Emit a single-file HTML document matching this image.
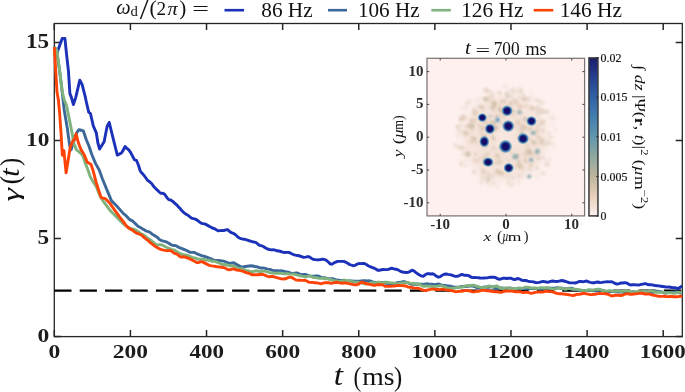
<!DOCTYPE html>
<html><head><meta charset="utf-8"><style>html,body{margin:0;padding:0;background:#fff;overflow:hidden}svg{display:block;will-change:transform}</style></head>
<body><svg width="685" height="392" viewBox="0 0 685 392">
<defs>
<clipPath id="pc"><rect x="40" y="23.5" width="642.6" height="313.1"/></clipPath>
<clipPath id="ic"><rect x="427" y="58.3" width="157.6" height="157.6"/></clipPath>
<linearGradient id="cb" x1="0" y1="1" x2="0" y2="0">
<stop offset="0" stop-color="#fcf1ee"/>
<stop offset="0.125" stop-color="#e8cfbb"/>
<stop offset="0.25" stop-color="#bdb59c"/>
<stop offset="0.375" stop-color="#8fa9a0"/>
<stop offset="0.5" stop-color="#6297ae"/>
<stop offset="0.625" stop-color="#437ead"/>
<stop offset="0.75" stop-color="#3162a5"/>
<stop offset="0.875" stop-color="#26408f"/>
<stop offset="1" stop-color="#1b1c6b"/>
</linearGradient>
<filter id="bl1" x="-50%" y="-50%" width="200%" height="200%"><feGaussianBlur stdDeviation="1.6"/></filter>
<filter id="bl2" x="-50%" y="-50%" width="200%" height="200%"><feGaussianBlur stdDeviation="0.9"/></filter>
<filter id="bl3" x="-50%" y="-50%" width="200%" height="200%"><feGaussianBlur stdDeviation="0.5"/></filter>
<radialGradient id="dotg" cx="0.5" cy="0.5" r="0.5">
<stop offset="0" stop-color="#140f68"/>
<stop offset="0.5" stop-color="#15126a"/>
<stop offset="0.6" stop-color="#2c4c9f"/>
<stop offset="0.74" stop-color="#4a88b6"/>
<stop offset="0.88" stop-color="#7eaab8" stop-opacity="0.7"/>
<stop offset="1" stop-color="#a0b8b0" stop-opacity="0"/>
</radialGradient>
<radialGradient id="cloud" cx="0.5" cy="0.5" r="0.5">
<stop offset="0" stop-color="#ead3c0" stop-opacity="0.3"/>
<stop offset="0.45" stop-color="#e6cdb8" stop-opacity="0.45"/>
<stop offset="0.8" stop-color="#ecd6c6" stop-opacity="0.35"/>
<stop offset="1" stop-color="#fbefea" stop-opacity="0"/>
</radialGradient>
</defs>
<rect width="685" height="392" fill="#fff"/>
<rect x="54.3" y="23.5" width="628.0" height="313.1" fill="none" stroke="#262626" stroke-width="1.3"/>
<path d="M54.30 336.6v-6.6M54.30 23.5v6.6M130.41 336.6v-6.6M130.41 23.5v6.6M206.53 336.6v-6.6M206.53 23.5v6.6M282.64 336.6v-6.6M282.64 23.5v6.6M358.75 336.6v-6.6M358.75 23.5v6.6M434.86 336.6v-6.6M434.86 23.5v6.6M510.98 336.6v-6.6M510.98 23.5v6.6M587.09 336.6v-6.6M587.09 23.5v6.6M663.20 336.6v-6.6M663.20 23.5v6.6M54.3 336.60h6.6M682.3 336.60h-6.6M54.3 238.60h6.6M682.3 238.60h-6.6M54.3 140.60h6.6M682.3 140.60h-6.6M54.3 42.60h6.6M682.3 42.60h-6.6" stroke="#262626" stroke-width="1.5" fill="none"/>
<line x1="54.3" y1="290.6" x2="682.3" y2="290.6" stroke="#000" stroke-width="2.4" stroke-dasharray="17.2 8.2"/>
<g clip-path="url(#pc)" fill="none" stroke-width="2.9" stroke-linejoin="round" stroke-linecap="butt">
<polyline stroke="#1b31b9" points="56.0,55.5 62.2,38.4 64.9,38.4 66.4,53.0 68.4,70.6 69.9,93.6 71.4,97.4 73.4,104.5 75.7,97.6 79.8,80.1 82.1,84.4 85.2,96.6 86.4,102.2 88.7,112.2 90.5,113.7 93.3,125.9 96.3,132.8 97.9,143.0 99.6,149.0 104.1,141.8 107.1,126.5 109.2,122.4 111.2,130.6 117.3,155.1 121.4,153.0 123.1,150.4 125.0,146.6 126.9,148.3 128.8,149.9 130.7,152.6 132.6,156.2 134.5,159.9 136.4,160.3 138.3,164.8 140.2,170.8 142.1,173.3 144.0,175.4 145.9,178.0 147.8,180.6 149.7,181.8 151.6,183.5 153.5,186.2 155.4,188.3 157.3,190.1 159.2,192.1 161.1,193.4 163.0,193.2 164.9,194.4 166.8,197.5 168.7,199.6 170.6,200.0 172.5,201.2 174.4,202.9 176.3,204.6 178.2,206.6 180.1,208.5 182.0,210.8 183.9,212.7 185.8,214.2 187.7,215.0 189.6,216.6 191.5,218.1 193.4,218.7 195.3,219.1 197.2,220.1 199.1,221.7 201.0,223.1 202.9,223.6 204.8,223.9 206.7,224.9 208.6,225.9 210.5,227.0 212.4,228.0 214.3,228.6 216.2,229.7 218.1,230.8 220.0,230.6 221.9,230.5 223.8,230.6 225.7,229.9 227.6,229.6 229.5,231.4 231.4,232.7 233.3,233.3 235.2,234.5 237.1,236.3 239.0,237.8 240.9,238.7 242.8,239.1 244.7,239.3 246.6,239.8 248.5,240.5 250.4,241.1 252.3,241.7 254.2,242.0 256.1,242.7 258.0,244.2 259.9,245.4 261.8,245.8 263.7,246.7 265.6,248.0 267.5,249.0 269.4,249.5 271.3,249.9 273.2,249.8 275.1,250.1 277.0,250.8 278.9,251.0 280.8,251.5 282.7,252.1 284.6,252.5 286.5,252.4 288.4,252.4 290.3,253.0 292.2,254.0 294.1,254.8 296.0,255.2 297.9,255.5 299.8,256.0 301.7,256.6 303.6,257.4 305.5,257.1 307.4,256.7 309.3,256.8 311.2,258.2 313.1,259.3 315.0,259.6 316.9,259.9 318.8,259.7 320.7,259.5 322.6,259.1 324.5,259.5 326.4,260.4 328.3,262.0 330.2,263.9 332.1,264.2 334.0,262.8 335.9,262.0 337.8,261.4 339.7,261.4 341.6,261.4 343.5,261.4 345.4,262.0 347.3,263.0 349.2,264.3 351.1,265.0 353.0,265.7 354.9,265.4 356.8,264.3 358.7,263.5 360.6,263.6 362.5,263.5 364.4,263.5 366.3,264.5 368.2,265.8 370.1,266.7 372.0,267.4 373.9,268.1 375.8,269.0 377.7,270.3 379.6,270.3 381.5,269.7 383.4,269.5 385.3,269.6 387.2,269.6 389.1,269.1 391.0,268.3 392.9,268.5 394.8,269.2 396.7,269.3 398.6,270.1 400.5,271.4 402.4,272.0 404.3,272.2 406.2,272.5 408.1,272.4 410.0,271.5 411.9,270.2 413.8,270.8 415.7,272.4 417.6,273.8 419.5,275.0 421.4,275.8 423.3,276.3 425.2,274.8 427.1,273.7 429.0,273.8 430.9,274.0 432.8,273.8 434.7,274.8 436.6,276.3 438.5,277.2 440.4,276.6 442.3,275.2 444.2,274.2 446.1,274.0 448.0,274.4 449.9,274.6 451.8,275.2 453.7,275.9 455.6,276.4 457.5,276.3 459.4,275.5 461.3,274.5 463.2,274.8 465.1,275.4 467.0,275.3 468.9,275.7 470.8,277.0 472.7,277.6 474.6,277.5 476.5,277.6 478.4,277.8 480.3,278.0 482.2,278.1 484.1,278.0 486.0,277.9 487.9,277.7 489.8,277.3 491.7,277.3 493.6,277.3 495.5,277.5 497.4,278.7 499.3,279.4 501.2,278.8 503.1,278.2 505.0,278.3 506.9,278.5 508.8,278.3 510.7,278.1 512.6,279.0 514.5,279.6 516.4,279.0 518.3,278.5 520.2,279.3 522.1,280.4 524.0,280.5 525.9,280.5 527.8,281.1 529.7,281.5 531.6,281.6 533.5,281.9 535.4,282.5 537.3,282.6 539.2,282.4 541.1,281.9 543.0,281.4 544.9,281.7 546.8,282.2 548.7,282.0 550.6,281.4 552.5,281.0 554.4,281.3 556.3,281.5 558.2,281.4 560.1,280.9 562.0,280.5 563.9,281.0 565.8,281.5 567.7,282.2 569.6,282.9 571.5,282.9 573.4,282.9 575.3,283.0 577.2,282.4 579.1,281.5 581.0,281.4 582.9,281.9 584.8,281.4 586.7,281.0 588.6,281.9 590.5,282.4 592.4,282.7 594.3,282.8 596.2,282.2 598.1,282.0 600.0,282.6 601.9,282.4 603.8,282.1 605.7,281.9 607.6,281.7 609.5,281.9 611.4,281.7 613.3,282.5 615.2,283.5 617.1,284.1 619.0,283.6 620.9,283.0 622.8,283.0 624.7,282.8 626.6,282.9 628.5,284.1 630.4,285.0 632.3,284.8 634.2,284.6 636.1,284.9 638.0,285.0 639.9,284.7 641.8,284.3 643.7,283.9 645.6,283.7 647.5,284.5 649.4,284.7 651.3,284.7 653.2,285.1 655.1,285.5 657.0,285.7 658.9,285.9 660.8,286.2 662.7,286.5 664.6,286.8 666.5,287.1 668.4,287.0 670.3,287.2 672.2,287.5 674.1,287.6 676.0,288.0 677.9,288.6 679.8,287.6 681.7,286.1 681.9,286.1"/>
<polyline stroke="#3b6898" points="54.4,47.4 56.6,50.5 59.7,71.5 62.0,90.5 64.2,109.9 67.3,128.2 69.6,145.0 71.1,149.9 73.4,142.2 76.5,133.1 78.8,129.8 80.3,130.0 83.3,130.8 86.4,140.0 88.7,145.3 91.8,154.5 95.6,163.6 99.2,170.0 102.2,178.2 106.3,188.4 111.4,200.6 116.5,205.7 123.7,213.9 125.6,215.2 127.5,217.3 129.4,219.4 131.3,220.4 133.2,221.4 135.1,223.4 137.0,225.3 138.9,226.8 140.8,227.8 142.7,228.9 144.6,230.1 146.5,231.2 148.4,231.6 150.3,232.5 152.2,234.2 154.1,235.3 156.0,236.4 157.9,237.9 159.8,239.7 161.7,240.6 163.6,241.2 165.5,241.7 167.4,242.4 169.3,243.5 171.2,244.8 173.1,245.5 175.0,245.5 176.9,246.2 178.8,247.4 180.7,248.1 182.6,248.8 184.5,249.6 186.4,250.3 188.3,251.4 190.2,252.4 192.1,252.4 194.0,252.4 195.9,253.3 197.8,254.2 199.7,254.9 201.6,255.6 203.5,256.1 205.4,256.7 207.3,257.4 209.2,258.1 211.1,258.8 213.0,259.8 214.9,260.4 216.8,260.4 218.7,260.4 220.6,260.7 222.5,260.9 224.4,261.3 226.3,262.2 228.2,262.9 230.1,263.4 232.0,263.0 233.9,262.7 235.8,263.9 237.7,265.1 239.6,266.0 241.5,267.0 243.4,267.0 245.3,266.5 247.2,266.2 249.1,266.0 251.0,265.8 252.9,266.0 254.8,266.5 256.7,266.7 258.6,267.3 260.5,268.0 262.4,268.0 264.3,268.1 266.2,268.7 268.1,269.1 270.0,269.4 271.9,270.1 273.8,270.7 275.7,270.6 277.6,270.7 279.5,270.9 281.4,270.8 283.3,271.1 285.2,271.7 287.1,272.0 289.0,272.4 290.9,273.1 292.8,273.5 294.7,273.2 296.6,272.9 298.5,273.5 300.4,274.5 302.3,274.8 304.2,274.5 306.1,274.6 308.0,275.4 309.9,275.9 311.8,276.1 313.7,276.1 315.6,275.9 317.5,275.9 319.4,276.5 321.3,277.4 323.2,277.7 325.1,277.8 327.0,278.4 328.9,278.9 330.8,278.8 332.7,278.7 334.6,279.3 336.5,280.0 338.4,280.2 340.3,280.5 342.2,280.5 344.1,280.2 346.0,280.5 347.9,280.8 349.8,280.9 351.7,281.0 353.6,281.3 355.5,281.2 357.4,281.1 359.3,281.3 361.2,280.9 363.1,280.7 365.0,280.8 366.9,280.9 368.8,280.8 370.7,281.1 372.6,281.9 374.5,282.3 376.4,282.4 378.3,282.8 380.2,282.8 382.1,282.5 384.0,282.7 385.9,283.2 387.8,283.5 389.7,284.2 391.6,285.1 393.5,284.5 395.4,283.4 397.3,282.7 399.2,282.5 401.1,282.3 403.0,281.7 404.9,281.8 406.8,282.4 408.7,283.2 410.6,284.0 412.5,284.2 414.4,284.2 416.3,284.2 418.2,284.0 420.1,284.2 422.0,284.3 423.9,284.4 425.8,284.0 427.7,283.8 429.6,284.3 431.5,284.3 433.4,284.4 435.3,284.7 437.2,284.2 439.1,284.0 441.0,284.8 442.9,285.3 444.8,285.5 446.7,285.8 448.6,285.9 450.5,286.1 452.4,286.7 454.3,287.0 456.2,287.2 458.1,287.3 460.0,286.9 461.9,286.5 463.8,286.4 465.7,286.5 467.6,286.3 469.5,286.0 471.4,285.9 473.3,286.2 475.2,286.9 477.1,287.6 479.0,288.2 480.9,288.3 482.8,287.5 484.7,286.9 486.6,287.2 488.5,287.3 490.4,286.9 492.3,286.8 494.2,287.7 496.1,288.7 498.0,288.7 499.9,288.0 501.8,287.9 503.7,288.2 505.6,288.5 507.5,288.3 509.4,287.9 511.3,288.1 513.2,288.8 515.1,288.9 517.0,288.8 518.9,288.6 520.8,288.5 522.7,288.5 524.6,288.5 526.5,288.9 528.4,288.8 530.3,288.4 532.2,288.6 534.1,288.7 536.0,288.3 537.9,288.5 539.8,289.0 541.7,289.2 543.6,288.8 545.5,288.2 547.4,288.1 549.3,288.2 551.2,288.2 553.1,288.3 555.0,288.1 556.9,287.8 558.8,287.9 560.7,288.1 562.6,288.3 564.5,288.8 566.4,288.9 568.3,288.5 570.2,288.2 572.1,288.3 574.0,289.2 575.9,289.9 577.8,290.0 579.7,290.4 581.6,290.8 583.5,290.7 585.4,290.8 587.3,290.7 589.2,290.2 591.1,290.1 593.0,290.4 594.9,290.8 596.8,290.8 598.7,290.2 600.6,289.9 602.5,290.5 604.4,291.3 606.3,291.6 608.2,291.6 610.1,291.6 612.0,291.5 613.9,291.6 615.8,291.8 617.7,291.9 619.6,292.0 621.5,292.0 623.4,292.0 625.3,292.3 627.2,293.1 629.1,293.3 631.0,292.4 632.9,291.6 634.8,292.1 636.7,292.7 638.6,292.1 640.5,291.5 642.4,292.1 644.3,292.9 646.2,292.2 648.1,291.5 650.0,291.9 651.9,292.5 653.8,292.1 655.7,291.4 657.6,291.2 659.5,291.6 661.4,291.8 663.3,292.5 665.2,293.0 667.1,292.7 669.0,292.4 670.9,292.3 672.8,292.1 674.7,291.9 676.6,291.8 678.5,292.2 680.4,293.2 682.0,292.5"/>
<polyline stroke="#7fb27c" points="54.5,47.3 56.8,50.0 59.6,70.5 62.3,92.0 64.3,100.0 66.5,105.3 69.6,120.6 72.6,135.9 73.4,142.2 76.5,149.9 80.3,152.9 82.6,155.2 84.9,162.1 87.9,169.8 90.2,176.6 93.3,182.0 96.3,186.6 100.2,196.5 104.3,202.7 110.4,210.8 116.5,216.9 122.7,223.1 124.6,224.9 126.5,226.2 128.4,227.4 130.3,228.4 132.2,228.8 134.1,229.3 136.0,230.2 137.9,231.5 139.8,233.0 141.7,234.0 143.6,234.8 145.5,236.4 147.4,238.1 149.3,239.2 151.2,240.4 153.1,242.2 155.0,243.8 156.9,244.9 158.8,244.7 160.7,244.6 162.6,245.2 164.5,246.2 166.4,247.2 168.3,248.1 170.2,248.9 172.1,249.6 174.0,249.9 175.9,250.8 177.8,252.3 179.7,253.4 181.6,254.2 183.5,254.8 185.4,254.9 187.3,255.3 189.2,256.1 191.1,257.0 193.0,257.6 194.9,257.9 196.8,258.7 198.7,259.3 200.6,259.2 202.5,259.1 204.4,259.5 206.3,260.0 208.2,260.1 210.1,260.5 212.0,261.3 213.9,261.3 215.8,261.6 217.7,262.5 219.6,263.2 221.5,264.1 223.4,264.7 225.3,264.5 227.2,265.0 229.1,265.7 231.0,265.7 232.9,265.9 234.8,266.7 236.7,267.6 238.6,268.6 240.5,268.6 242.4,268.8 244.3,269.9 246.2,270.4 248.1,270.7 250.0,271.5 251.9,271.9 253.8,271.3 255.7,270.8 257.6,271.0 259.5,271.5 261.4,271.5 263.3,271.1 265.2,271.1 267.1,271.8 269.0,272.4 270.9,272.8 272.8,273.1 274.7,273.2 276.6,273.2 278.5,273.3 280.4,273.3 282.3,273.6 284.2,273.9 286.1,273.8 288.0,273.8 289.9,274.1 291.8,274.1 293.7,274.1 295.6,274.6 297.5,275.1 299.4,275.5 301.3,276.1 303.2,276.4 305.1,276.7 307.0,276.5 308.9,275.9 310.8,276.2 312.7,277.2 314.6,277.5 316.5,277.7 318.4,278.2 320.3,278.4 322.2,278.3 324.1,278.5 326.0,278.8 327.9,278.8 329.8,279.4 331.7,280.0 333.6,280.4 335.5,280.7 337.4,281.2 339.3,281.6 341.2,281.1 343.1,280.6 345.0,280.5 346.9,280.5 348.8,280.7 350.7,281.2 352.6,281.7 354.5,282.0 356.4,282.1 358.3,282.2 360.2,282.8 362.1,283.1 364.0,283.7 365.9,284.1 367.8,283.7 369.7,283.2 371.6,282.6 373.5,282.7 375.4,282.9 377.3,282.3 379.2,282.2 381.1,282.8 383.0,282.7 384.9,282.2 386.8,282.1 388.7,282.5 390.6,282.9 392.5,282.9 394.4,283.1 396.3,283.8 398.2,283.6 400.1,283.1 402.0,283.0 403.9,283.0 405.8,282.6 407.7,282.5 409.6,283.1 411.5,283.4 413.4,283.3 415.3,283.7 417.2,283.9 419.1,284.2 421.0,285.1 422.9,286.2 424.8,286.2 426.7,285.9 428.6,286.3 430.5,286.3 432.4,286.4 434.3,286.5 436.2,286.4 438.1,286.1 440.0,285.7 441.9,285.8 443.8,286.4 445.7,287.1 447.6,288.0 449.5,288.5 451.4,288.2 453.3,288.2 455.2,288.0 457.1,287.5 459.0,287.1 460.9,287.1 462.8,287.0 464.7,286.2 466.6,285.6 468.5,285.6 470.4,285.7 472.3,285.1 474.2,285.3 476.1,286.0 478.0,286.5 479.9,287.2 481.8,287.7 483.7,287.5 485.6,287.1 487.5,286.4 489.4,285.9 491.3,286.9 493.2,287.3 495.1,286.1 497.0,285.9 498.9,287.2 500.8,288.2 502.7,288.4 504.6,288.3 506.5,288.0 508.4,288.1 510.3,288.5 512.2,288.5 514.1,288.8 516.0,288.8 517.9,288.1 519.8,287.9 521.7,288.3 523.6,287.9 525.5,287.2 527.4,287.1 529.3,287.5 531.2,288.1 533.1,288.0 535.0,288.0 536.9,288.4 538.8,288.2 540.7,287.6 542.6,287.8 544.5,288.0 546.4,287.7 548.3,287.6 550.2,288.3 552.1,288.9 554.0,289.0 555.9,288.8 557.8,288.1 559.7,287.9 561.6,288.1 563.5,288.6 565.4,289.3 567.3,288.8 569.2,288.3 571.1,289.0 573.0,289.3 574.9,289.2 576.8,289.4 578.7,289.6 580.6,289.9 582.5,290.8 584.4,291.0 586.3,290.3 588.2,289.8 590.1,290.0 592.0,290.2 593.9,289.8 595.8,289.4 597.7,289.2 599.6,289.3 601.5,290.2 603.4,290.9 605.3,291.0 607.2,291.1 609.1,290.7 611.0,290.6 612.9,291.3 614.8,291.4 616.7,290.8 618.6,291.0 620.5,291.5 622.4,291.4 624.3,290.9 626.2,290.7 628.1,291.0 630.0,291.7 631.9,292.2 633.8,292.0 635.7,291.7 637.6,291.5 639.5,291.5 641.4,291.7 643.3,291.5 645.2,291.4 647.1,291.6 649.0,291.3 650.9,291.0 652.8,291.1 654.7,291.8 656.6,292.3 658.5,292.3 660.4,292.4 662.3,292.2 664.2,292.3 666.1,292.9 668.0,292.7 669.9,292.7 671.8,292.9 673.7,293.3 675.6,293.0 677.5,292.4 679.4,292.3 681.3,292.5 681.9,292.3"/>
<polyline stroke="#ff4306" points="54.3,47.2 55.7,70.5 57.0,92.0 58.4,100.0 59.6,112.9 61.2,135.9 61.9,148.3 62.4,155.2 63.9,150.6 66.1,172.8 68.1,160.6 70.3,146.8 72.6,141.5 74.6,139.2 76.2,133.8 78.0,141.5 81.1,149.9 84.1,154.5 87.2,162.1 91.0,164.4 93.3,171.3 96.1,182.2 98.6,190.0 101.2,197.6 105.3,198.6 109.4,202.7 114.5,209.8 119.6,216.9 124.7,223.5 126.6,226.2 128.5,227.8 130.4,229.1 132.3,230.0 134.2,231.6 136.1,232.9 138.0,233.7 139.9,234.3 141.8,235.3 143.7,237.1 145.6,238.7 147.5,240.0 149.4,241.8 151.3,243.4 153.2,244.8 155.1,246.3 157.0,247.4 158.9,248.5 160.8,249.4 162.7,249.9 164.6,250.3 166.5,250.7 168.4,250.6 170.3,250.4 172.2,251.6 174.1,253.1 176.0,253.8 177.9,254.8 179.8,256.5 181.7,257.1 183.6,256.8 185.5,257.1 187.4,257.9 189.3,258.6 191.2,259.6 193.1,260.5 195.0,261.5 196.9,262.6 198.8,262.5 200.7,261.7 202.6,261.9 204.5,262.9 206.4,263.9 208.3,264.9 210.2,265.6 212.1,265.9 214.0,266.1 215.9,266.5 217.8,266.8 219.7,267.1 221.6,267.3 223.5,267.5 225.4,268.2 227.3,269.3 229.2,269.9 231.1,269.3 233.0,268.8 234.9,269.4 236.8,270.1 238.7,270.3 240.6,270.7 242.5,271.2 244.4,271.9 246.3,272.7 248.2,273.0 250.1,273.9 252.0,274.7 253.9,274.8 255.8,274.8 257.7,274.7 259.6,274.5 261.5,274.4 263.4,274.5 265.3,275.3 267.2,276.3 269.1,276.7 271.0,276.4 272.9,276.5 274.8,277.1 276.7,277.6 278.6,278.1 280.5,278.7 282.4,278.9 284.3,279.0 286.2,278.5 288.1,277.6 290.0,277.2 291.9,277.6 293.8,278.8 295.7,279.8 297.6,280.2 299.5,280.2 301.4,280.4 303.3,280.4 305.2,280.3 307.1,281.2 309.0,282.3 310.9,282.4 312.8,282.4 314.7,282.8 316.6,282.8 318.5,283.2 320.4,283.7 322.3,283.4 324.2,282.8 326.1,282.6 328.0,282.7 329.9,283.1 331.8,283.2 333.7,282.8 335.6,282.5 337.5,282.3 339.4,282.8 341.3,283.2 343.2,283.0 345.1,283.0 347.0,283.1 348.9,283.6 350.8,284.0 352.7,284.4 354.6,284.8 356.5,284.9 358.4,284.2 360.3,282.9 362.2,282.1 364.1,282.8 366.0,283.5 367.9,284.0 369.8,284.4 371.7,284.8 373.6,285.3 375.5,285.2 377.4,284.7 379.3,284.8 381.2,284.7 383.1,284.9 385.0,286.2 386.9,286.4 388.8,286.2 390.7,286.4 392.6,286.1 394.5,286.1 396.4,285.6 398.3,285.4 400.2,285.6 402.1,285.6 404.0,285.8 405.9,286.0 407.8,286.8 409.7,287.3 411.6,287.3 413.5,287.9 415.4,288.3 417.3,288.1 419.2,288.5 421.1,289.4 423.0,290.2 424.9,290.5 426.8,290.1 428.7,289.8 430.6,289.3 432.5,288.9 434.4,289.3 436.3,289.5 438.2,289.5 440.1,289.6 442.0,289.1 443.9,289.3 445.8,289.9 447.7,290.1 449.6,290.3 451.5,290.7 453.4,291.2 455.3,291.7 457.2,291.6 459.1,291.3 461.0,291.4 462.9,291.0 464.8,290.6 466.7,290.6 468.6,290.7 470.5,291.2 472.4,291.8 474.3,291.9 476.2,291.4 478.1,291.3 480.0,290.9 481.9,290.4 483.8,290.4 485.7,290.5 487.6,290.7 489.5,291.0 491.4,291.3 493.3,291.5 495.2,291.8 497.1,291.8 499.0,292.0 500.9,292.4 502.8,291.8 504.7,291.2 506.6,291.0 508.5,291.1 510.4,291.1 512.3,291.1 514.2,291.6 516.1,291.8 518.0,291.6 519.9,291.7 521.8,292.2 523.7,292.5 525.6,292.3 527.5,292.4 529.4,292.9 531.3,293.2 533.2,292.9 535.1,292.4 537.0,292.1 538.9,292.0 540.8,292.1 542.7,292.1 544.6,291.5 546.5,291.1 548.4,291.5 550.3,291.6 552.2,291.7 554.1,292.4 556.0,293.2 557.9,293.6 559.8,293.8 561.7,293.8 563.6,294.1 565.5,294.3 567.4,294.6 569.3,294.8 571.2,295.2 573.1,295.5 575.0,295.0 576.9,294.4 578.8,294.3 580.7,294.0 582.6,293.5 584.5,293.3 586.4,293.8 588.3,294.2 590.2,294.6 592.1,294.5 594.0,294.3 595.9,294.2 597.8,293.6 599.7,293.4 601.6,293.6 603.5,293.6 605.4,293.8 607.3,294.1 609.2,294.7 611.1,295.7 613.0,295.8 614.9,295.3 616.8,295.1 618.7,295.2 620.6,295.5 622.5,295.2 624.4,294.3 626.3,293.9 628.2,293.9 630.1,294.2 632.0,294.2 633.9,294.0 635.8,293.9 637.7,293.6 639.6,293.2 641.5,293.3 643.4,293.5 645.3,294.1 647.2,294.0 649.1,293.9 651.0,294.6 652.9,295.2 654.8,295.3 656.7,295.8 658.6,296.3 660.5,296.4 662.4,296.4 664.3,296.3 666.2,296.5 668.1,296.6 670.0,296.5 671.9,296.5 673.8,296.8 675.7,296.8 677.6,296.7 679.5,296.4 681.4,296.2 681.9,295.4"/>
</g>
<text transform="translate(48.41 358.30) scale(1.196 1)" style="font-family:&quot;Liberation Serif&quot;,serif;font-size:19.70px;font-weight:bold" fill="#1c1c1c" >0</text>
<text transform="translate(112.82 358.30) scale(1.190 1)" style="font-family:&quot;Liberation Serif&quot;,serif;font-size:19.70px;font-weight:bold" fill="#1c1c1c" >200</text>
<text transform="translate(189.53 358.30) scale(1.170 1)" style="font-family:&quot;Liberation Serif&quot;,serif;font-size:19.70px;font-weight:bold" fill="#1c1c1c" >400</text>
<text transform="translate(265.17 358.30) scale(1.186 1)" style="font-family:&quot;Liberation Serif&quot;,serif;font-size:19.70px;font-weight:bold" fill="#1c1c1c" >600</text>
<text transform="translate(341.28 358.30) scale(1.186 1)" style="font-family:&quot;Liberation Serif&quot;,serif;font-size:19.70px;font-weight:bold" fill="#1c1c1c" >800</text>
<text transform="translate(411.48 358.30) scale(1.164 1)" style="font-family:&quot;Liberation Serif&quot;,serif;font-size:19.70px;font-weight:bold" fill="#1c1c1c" >1000</text>
<text transform="translate(487.59 358.30) scale(1.164 1)" style="font-family:&quot;Liberation Serif&quot;,serif;font-size:19.70px;font-weight:bold" fill="#1c1c1c" >1200</text>
<text transform="translate(563.70 358.30) scale(1.164 1)" style="font-family:&quot;Liberation Serif&quot;,serif;font-size:19.70px;font-weight:bold" fill="#1c1c1c" >1400</text>
<text transform="translate(639.82 358.30) scale(1.164 1)" style="font-family:&quot;Liberation Serif&quot;,serif;font-size:19.70px;font-weight:bold" fill="#1c1c1c" >1600</text>
<text transform="translate(37.56 342.40) scale(1.187 1)" style="font-family:&quot;Liberation Serif&quot;,serif;font-size:19.85px;font-weight:bold" fill="#1c1c1c" >0</text>
<text transform="translate(37.57 244.40) scale(1.156 1)" style="font-family:&quot;Liberation Serif&quot;,serif;font-size:20.15px;font-weight:bold" fill="#1c1c1c" >5</text>
<text transform="translate(26.04 146.40) scale(1.173 1)" style="font-family:&quot;Liberation Serif&quot;,serif;font-size:19.85px;font-weight:bold" fill="#1c1c1c" >10</text>
<text transform="translate(26.05 48.40) scale(1.158 1)" style="font-family:&quot;Liberation Serif&quot;,serif;font-size:20.00px;font-weight:bold" fill="#1c1c1c" >15</text>
<text transform="translate(333.80 385.41) scale(1.169 1)" style="font-family:&quot;Liberation Serif&quot;,serif;font-size:28.52px;font-style:italic" fill="#111" >t</text>
<text transform="translate(353.46 385.70) scale(0.857 1)" style="font-family:&quot;Liberation Serif&quot;,serif;font-size:27.00px;" fill="#111">(</text>
<text transform="translate(362.15 385.44) scale(1.081 1)" style="font-family:&quot;Liberation Serif&quot;,serif;font-size:25.63px;" fill="#111" >ms</text>
<text transform="translate(394.06 385.70) scale(0.912 1)" style="font-family:&quot;Liberation Serif&quot;,serif;font-size:27.00px;" fill="#111">)</text>
<text transform="translate(19.34 201.38) rotate(-90) scale(1.424 1)" style="font-family:&quot;Liberation Serif&quot;,serif;font-size:24.00px;font-style:italic" fill="#111">γ</text>
<text transform="translate(19.10 184.23) rotate(-90) scale(0.947 1)" style="font-family:&quot;Liberation Serif&quot;,serif;font-size:26.50px;" fill="#111">(</text>
<text transform="translate(18.82 176.74) rotate(-90) scale(1.078 1)" style="font-family:&quot;Liberation Serif&quot;,serif;font-size:27.65px;font-style:italic" fill="#111">t</text>
<text transform="translate(19.10 165.94) rotate(-90) scale(0.929 1)" style="font-family:&quot;Liberation Serif&quot;,serif;font-size:26.50px;" fill="#111">)</text>
<g>
<text transform="translate(116.29 13.98) scale(0.938 1)" style="font-family:&quot;Liberation Serif&quot;,serif;font-size:21.67px;font-style:italic" fill="#111" >ω</text>
<text transform="translate(130.48 16.25) scale(0.952 1)" style="font-family:&quot;Liberation Serif&quot;,serif;font-size:15.46px;" fill="#111" >d</text>
<text transform="translate(139.80 19.10) scale(1.060 1)" style="font-family:&quot;Liberation Serif&quot;,serif;font-size:29.85px;" fill="#111" >/</text>
<text transform="translate(149.53 14.97) scale(0.981 1)" style="font-family:&quot;Liberation Serif&quot;,serif;font-size:21.98px;" fill="#111" >(</text>
<text transform="translate(156.53 14.80) scale(1.068 1)" style="font-family:&quot;Liberation Serif&quot;,serif;font-size:18.03px;" fill="#111" >2</text>
<text transform="translate(167.50 14.81) scale(1.089 1)" style="font-family:&quot;Liberation Serif&quot;,serif;font-size:18.72px;font-style:italic" fill="#111" >π</text>
<text transform="translate(179.37 14.97) scale(0.962 1)" style="font-family:&quot;Liberation Serif&quot;,serif;font-size:21.98px;" fill="#111" >)</text>
<text transform="translate(192.22 15.40) scale(1.522 1)" style="font-family:&quot;Liberation Serif&quot;,serif;font-size:19.50px;" fill="#111">=</text>
<line x1="224.5" y1="10.2" x2="244.1" y2="10.2" stroke="#1b31b9" stroke-width="2.6"/>
<text transform="translate(261.25 16.80) scale(1.004 1)" style="font-family:&quot;Liberation Serif&quot;,serif;font-size:21.20px;" fill="#111">86 Hz</text>
<line x1="328" y1="10.2" x2="347" y2="10.2" stroke="#3b6898" stroke-width="2.6"/>
<text transform="translate(357.90 16.80) scale(0.999 1)" style="font-family:&quot;Liberation Serif&quot;,serif;font-size:21.20px;" fill="#111">106 Hz</text>
<line x1="431.3" y1="10.2" x2="450.8" y2="10.2" stroke="#7fb27c" stroke-width="2.6"/>
<text transform="translate(461.19 16.80) scale(1.006 1)" style="font-family:&quot;Liberation Serif&quot;,serif;font-size:21.20px;" fill="#111">126 Hz</text>
<line x1="533.7" y1="10.2" x2="553.3" y2="10.2" stroke="#ff4306" stroke-width="2.6"/>
<text transform="translate(559.68 16.80) scale(1.007 1)" style="font-family:&quot;Liberation Serif&quot;,serif;font-size:21.20px;" fill="#111">146 Hz</text>
</g>
<g clip-path="url(#ic)">
<rect x="427" y="58.3" width="157.6" height="157.6" fill="#fdf0ee"/>
<circle cx="505" cy="138" r="50" fill="url(#cloud)"/>
<g filter="url(#bl2)"><ellipse cx="471.7" cy="123.9" rx="2.9" ry="3.5" fill="#bdb29a" fill-opacity="0.29"/><ellipse cx="513.1" cy="113.9" rx="2.1" ry="1.6" fill="#d8bfa6" fill-opacity="0.48"/><ellipse cx="530.2" cy="153.1" rx="2.7" ry="2.5" fill="#d2b79c" fill-opacity="0.37"/><ellipse cx="502.5" cy="101.3" rx="2.4" ry="2.4" fill="#d8bfa6" fill-opacity="0.17"/><ellipse cx="510.9" cy="152.1" rx="1.7" ry="1.5" fill="#d2b79c" fill-opacity="0.52"/><ellipse cx="518.7" cy="175.2" rx="1.7" ry="1.9" fill="#c3b398" fill-opacity="0.26"/><ellipse cx="498.7" cy="172.4" rx="3.0" ry="2.7" fill="#d2b79c" fill-opacity="0.35"/><ellipse cx="498.6" cy="162.7" rx="1.4" ry="1.7" fill="#d2b79c" fill-opacity="0.34"/><ellipse cx="537.2" cy="128.3" rx="2.7" ry="3.4" fill="#d2b79c" fill-opacity="0.24"/><ellipse cx="493.9" cy="148.0" rx="2.5" ry="2.7" fill="#bdb29a" fill-opacity="0.26"/><ellipse cx="499.3" cy="182.8" rx="1.4" ry="1.4" fill="#c3b398" fill-opacity="0.11"/><ellipse cx="538.2" cy="174.4" rx="2.5" ry="2.9" fill="#d2b79c" fill-opacity="0.10"/><ellipse cx="482.8" cy="128.3" rx="2.1" ry="2.4" fill="#c9b196" fill-opacity="0.55"/><ellipse cx="479.2" cy="160.1" rx="2.0" ry="2.4" fill="#c9b196" fill-opacity="0.17"/><ellipse cx="462.1" cy="108.7" rx="3.0" ry="2.8" fill="#d2b79c" fill-opacity="0.11"/><ellipse cx="474.7" cy="99.5" rx="1.5" ry="1.3" fill="#c9b196" fill-opacity="0.13"/><ellipse cx="483.1" cy="177.4" rx="1.8" ry="1.5" fill="#d2b79c" fill-opacity="0.13"/><ellipse cx="546.8" cy="141.1" rx="1.9" ry="2.5" fill="#d8bfa6" fill-opacity="0.23"/><ellipse cx="472.1" cy="120.3" rx="2.8" ry="2.5" fill="#c9b196" fill-opacity="0.32"/><ellipse cx="484.6" cy="120.1" rx="2.5" ry="3.2" fill="#c9b196" fill-opacity="0.45"/><ellipse cx="528.7" cy="129.3" rx="2.8" ry="2.0" fill="#d8bfa6" fill-opacity="0.24"/><ellipse cx="485.3" cy="135.5" rx="1.7" ry="2.1" fill="#bdb29a" fill-opacity="0.32"/><ellipse cx="494.0" cy="176.2" rx="1.6" ry="1.6" fill="#d2b79c" fill-opacity="0.17"/><ellipse cx="473.3" cy="108.7" rx="1.4" ry="1.2" fill="#c9b196" fill-opacity="0.33"/><ellipse cx="503.5" cy="149.2" rx="2.1" ry="1.8" fill="#d2b79c" fill-opacity="0.26"/><ellipse cx="543.0" cy="130.5" rx="1.5" ry="1.9" fill="#c9b196" fill-opacity="0.37"/><ellipse cx="489.6" cy="97.3" rx="2.3" ry="2.9" fill="#c9b196" fill-opacity="0.26"/><ellipse cx="482.1" cy="165.6" rx="1.8" ry="2.0" fill="#d2b79c" fill-opacity="0.17"/><ellipse cx="500.5" cy="100.4" rx="1.8" ry="1.9" fill="#d2b79c" fill-opacity="0.18"/><ellipse cx="541.4" cy="110.6" rx="2.6" ry="3.2" fill="#c9b196" fill-opacity="0.27"/><ellipse cx="492.3" cy="107.7" rx="2.8" ry="2.0" fill="#bdb29a" fill-opacity="0.46"/><ellipse cx="542.3" cy="140.4" rx="2.4" ry="2.6" fill="#bdb29a" fill-opacity="0.31"/><ellipse cx="493.6" cy="123.3" rx="3.0" ry="2.8" fill="#bdb29a" fill-opacity="0.50"/><ellipse cx="465.8" cy="115.1" rx="2.0" ry="2.4" fill="#d8bfa6" fill-opacity="0.14"/><ellipse cx="494.0" cy="128.9" rx="2.1" ry="1.6" fill="#c9b196" fill-opacity="0.60"/><ellipse cx="480.3" cy="98.0" rx="2.1" ry="1.7" fill="#d2b79c" fill-opacity="0.18"/><ellipse cx="464.1" cy="132.3" rx="2.6" ry="2.5" fill="#c3b398" fill-opacity="0.29"/><ellipse cx="482.1" cy="180.6" rx="2.4" ry="2.9" fill="#c9b196" fill-opacity="0.19"/><ellipse cx="519.0" cy="180.3" rx="1.7" ry="1.5" fill="#c9b196" fill-opacity="0.22"/><ellipse cx="483.5" cy="137.5" rx="2.7" ry="3.5" fill="#d2b79c" fill-opacity="0.47"/><ellipse cx="519.0" cy="162.1" rx="2.1" ry="2.5" fill="#c3b398" fill-opacity="0.49"/><ellipse cx="472.1" cy="132.8" rx="2.4" ry="1.8" fill="#d8bfa6" fill-opacity="0.31"/><ellipse cx="514.6" cy="127.1" rx="1.4" ry="1.2" fill="#c3b398" fill-opacity="0.45"/><ellipse cx="551.2" cy="142.6" rx="1.5" ry="1.8" fill="#bdb29a" fill-opacity="0.14"/><ellipse cx="510.2" cy="109.2" rx="2.7" ry="2.9" fill="#d2b79c" fill-opacity="0.34"/><ellipse cx="520.0" cy="97.2" rx="2.9" ry="2.9" fill="#c9b196" fill-opacity="0.18"/><ellipse cx="528.9" cy="138.6" rx="2.1" ry="1.8" fill="#d2b79c" fill-opacity="0.27"/><ellipse cx="494.7" cy="107.0" rx="2.2" ry="1.7" fill="#d8bfa6" fill-opacity="0.48"/><ellipse cx="490.1" cy="91.3" rx="1.7" ry="1.9" fill="#bdb29a" fill-opacity="0.25"/><ellipse cx="484.8" cy="143.1" rx="2.4" ry="2.5" fill="#d2b79c" fill-opacity="0.35"/><ellipse cx="519.2" cy="90.2" rx="2.9" ry="3.7" fill="#bdb29a" fill-opacity="0.15"/><ellipse cx="517.7" cy="122.8" rx="2.7" ry="3.3" fill="#d2b79c" fill-opacity="0.30"/><ellipse cx="556.0" cy="129.7" rx="2.2" ry="2.5" fill="#c3b398" fill-opacity="0.11"/><ellipse cx="492.8" cy="136.6" rx="1.4" ry="1.6" fill="#c3b398" fill-opacity="0.45"/><ellipse cx="541.5" cy="143.6" rx="2.7" ry="1.9" fill="#d2b79c" fill-opacity="0.27"/><ellipse cx="490.0" cy="101.4" rx="2.9" ry="2.9" fill="#bdb29a" fill-opacity="0.19"/><ellipse cx="528.9" cy="99.4" rx="2.5" ry="2.8" fill="#bdb29a" fill-opacity="0.23"/><ellipse cx="462.7" cy="153.9" rx="2.2" ry="2.3" fill="#d8bfa6" fill-opacity="0.23"/><ellipse cx="460.4" cy="119.4" rx="1.8" ry="2.2" fill="#bdb29a" fill-opacity="0.26"/><ellipse cx="491.2" cy="175.7" rx="1.5" ry="1.6" fill="#d8bfa6" fill-opacity="0.26"/><ellipse cx="480.5" cy="131.4" rx="2.2" ry="2.2" fill="#d8bfa6" fill-opacity="0.34"/><ellipse cx="517.9" cy="129.6" rx="2.2" ry="1.7" fill="#d8bfa6" fill-opacity="0.28"/><ellipse cx="526.1" cy="127.2" rx="2.1" ry="2.0" fill="#bdb29a" fill-opacity="0.31"/><ellipse cx="485.9" cy="145.5" rx="2.7" ry="2.1" fill="#bdb29a" fill-opacity="0.41"/><ellipse cx="539.0" cy="143.4" rx="1.7" ry="1.4" fill="#d2b79c" fill-opacity="0.18"/><ellipse cx="502.5" cy="148.5" rx="2.5" ry="1.9" fill="#c9b196" fill-opacity="0.48"/><ellipse cx="537.1" cy="168.2" rx="2.2" ry="2.4" fill="#c3b398" fill-opacity="0.26"/><ellipse cx="553.4" cy="144.1" rx="2.4" ry="2.4" fill="#d8bfa6" fill-opacity="0.19"/><ellipse cx="457.6" cy="126.7" rx="1.7" ry="1.8" fill="#c9b196" fill-opacity="0.23"/><ellipse cx="510.3" cy="185.0" rx="2.6" ry="2.3" fill="#c3b398" fill-opacity="0.24"/><ellipse cx="531.9" cy="122.8" rx="1.7" ry="1.3" fill="#c9b196" fill-opacity="0.46"/><ellipse cx="501.0" cy="110.3" rx="1.7" ry="2.2" fill="#d2b79c" fill-opacity="0.34"/><ellipse cx="494.1" cy="99.6" rx="1.6" ry="1.7" fill="#d2b79c" fill-opacity="0.18"/><ellipse cx="518.9" cy="108.0" rx="1.9" ry="1.7" fill="#d8bfa6" fill-opacity="0.37"/><ellipse cx="530.9" cy="91.9" rx="2.7" ry="1.9" fill="#bdb29a" fill-opacity="0.09"/><ellipse cx="465.9" cy="133.3" rx="2.3" ry="1.7" fill="#c9b196" fill-opacity="0.20"/><ellipse cx="517.9" cy="156.7" rx="1.8" ry="1.4" fill="#d2b79c" fill-opacity="0.41"/><ellipse cx="543.3" cy="157.3" rx="1.5" ry="1.5" fill="#bdb29a" fill-opacity="0.22"/><ellipse cx="476.8" cy="116.3" rx="1.3" ry="1.1" fill="#d2b79c" fill-opacity="0.40"/><ellipse cx="502.6" cy="101.2" rx="2.0" ry="1.5" fill="#c9b196" fill-opacity="0.33"/><ellipse cx="484.2" cy="178.6" rx="1.4" ry="1.2" fill="#bdb29a" fill-opacity="0.21"/><ellipse cx="483.2" cy="170.9" rx="2.6" ry="3.0" fill="#c3b398" fill-opacity="0.36"/><ellipse cx="523.2" cy="94.6" rx="2.0" ry="2.2" fill="#c3b398" fill-opacity="0.27"/><ellipse cx="509.4" cy="91.4" rx="2.0" ry="1.8" fill="#c9b196" fill-opacity="0.13"/><ellipse cx="541.3" cy="139.4" rx="1.9" ry="1.6" fill="#d8bfa6" fill-opacity="0.18"/><ellipse cx="489.6" cy="185.6" rx="1.7" ry="1.7" fill="#bdb29a" fill-opacity="0.16"/><ellipse cx="538.5" cy="137.0" rx="2.4" ry="3.1" fill="#d2b79c" fill-opacity="0.39"/><ellipse cx="495.3" cy="128.4" rx="2.6" ry="2.6" fill="#c3b398" fill-opacity="0.41"/><ellipse cx="477.7" cy="100.4" rx="1.3" ry="1.6" fill="#c3b398" fill-opacity="0.16"/><ellipse cx="465.9" cy="135.1" rx="2.9" ry="2.2" fill="#d8bfa6" fill-opacity="0.35"/><ellipse cx="483.2" cy="109.0" rx="2.2" ry="2.8" fill="#d2b79c" fill-opacity="0.27"/><ellipse cx="537.7" cy="130.8" rx="2.8" ry="2.0" fill="#d8bfa6" fill-opacity="0.35"/><ellipse cx="460.5" cy="161.2" rx="2.2" ry="2.2" fill="#d8bfa6" fill-opacity="0.13"/><ellipse cx="500.4" cy="173.6" rx="2.9" ry="3.4" fill="#c3b398" fill-opacity="0.17"/><ellipse cx="477.9" cy="107.1" rx="2.0" ry="1.8" fill="#bdb29a" fill-opacity="0.16"/><ellipse cx="475.6" cy="120.4" rx="2.5" ry="3.1" fill="#c3b398" fill-opacity="0.20"/><ellipse cx="470.4" cy="141.9" rx="3.0" ry="2.2" fill="#c9b196" fill-opacity="0.18"/><ellipse cx="544.6" cy="111.7" rx="1.5" ry="1.2" fill="#c9b196" fill-opacity="0.21"/><ellipse cx="465.0" cy="148.4" rx="1.6" ry="1.3" fill="#d2b79c" fill-opacity="0.22"/><ellipse cx="525.7" cy="162.0" rx="2.0" ry="2.1" fill="#d8bfa6" fill-opacity="0.26"/><ellipse cx="511.0" cy="102.9" rx="2.2" ry="2.5" fill="#c9b196" fill-opacity="0.44"/><ellipse cx="525.4" cy="154.7" rx="2.8" ry="2.6" fill="#d8bfa6" fill-opacity="0.41"/><ellipse cx="493.7" cy="110.8" rx="2.3" ry="2.0" fill="#d8bfa6" fill-opacity="0.26"/><ellipse cx="530.8" cy="129.0" rx="2.2" ry="1.6" fill="#c9b196" fill-opacity="0.49"/><ellipse cx="502.9" cy="153.2" rx="2.0" ry="1.7" fill="#d8bfa6" fill-opacity="0.25"/><ellipse cx="506.0" cy="108.2" rx="2.9" ry="3.1" fill="#c9b196" fill-opacity="0.37"/><ellipse cx="472.5" cy="141.4" rx="1.7" ry="1.3" fill="#c3b398" fill-opacity="0.32"/><ellipse cx="520.7" cy="91.0" rx="2.1" ry="2.4" fill="#d8bfa6" fill-opacity="0.23"/><ellipse cx="504.4" cy="101.5" rx="2.0" ry="2.1" fill="#c9b196" fill-opacity="0.27"/><ellipse cx="481.4" cy="183.0" rx="2.2" ry="2.1" fill="#c9b196" fill-opacity="0.13"/><ellipse cx="518.4" cy="123.6" rx="1.4" ry="1.5" fill="#d2b79c" fill-opacity="0.38"/><ellipse cx="459.1" cy="147.7" rx="2.7" ry="2.2" fill="#d2b79c" fill-opacity="0.12"/><ellipse cx="542.2" cy="158.0" rx="1.8" ry="1.4" fill="#c3b398" fill-opacity="0.19"/><ellipse cx="500.2" cy="105.2" rx="1.9" ry="1.9" fill="#d2b79c" fill-opacity="0.28"/><ellipse cx="538.2" cy="113.6" rx="2.5" ry="2.9" fill="#c3b398" fill-opacity="0.24"/><ellipse cx="492.6" cy="164.3" rx="2.0" ry="1.8" fill="#d8bfa6" fill-opacity="0.27"/><ellipse cx="483.8" cy="161.6" rx="2.0" ry="2.3" fill="#bdb29a" fill-opacity="0.41"/><ellipse cx="479.8" cy="157.8" rx="1.6" ry="1.3" fill="#d8bfa6" fill-opacity="0.34"/><ellipse cx="538.4" cy="106.0" rx="1.8" ry="1.3" fill="#d2b79c" fill-opacity="0.16"/><ellipse cx="498.5" cy="158.9" rx="1.3" ry="1.4" fill="#bdb29a" fill-opacity="0.24"/><ellipse cx="545.1" cy="160.4" rx="1.4" ry="1.1" fill="#d2b79c" fill-opacity="0.27"/><ellipse cx="530.9" cy="169.9" rx="2.6" ry="2.1" fill="#bdb29a" fill-opacity="0.19"/><ellipse cx="459.6" cy="130.8" rx="2.6" ry="3.1" fill="#bdb29a" fill-opacity="0.18"/><ellipse cx="525.4" cy="160.6" rx="2.1" ry="2.7" fill="#d2b79c" fill-opacity="0.40"/><ellipse cx="520.8" cy="106.6" rx="2.4" ry="2.9" fill="#d2b79c" fill-opacity="0.40"/><ellipse cx="552.4" cy="124.1" rx="2.4" ry="1.7" fill="#d8bfa6" fill-opacity="0.15"/><ellipse cx="522.6" cy="127.8" rx="2.9" ry="3.7" fill="#c9b196" fill-opacity="0.49"/><ellipse cx="521.3" cy="165.6" rx="1.6" ry="1.4" fill="#bdb29a" fill-opacity="0.33"/><ellipse cx="456.7" cy="145.8" rx="2.5" ry="3.0" fill="#c3b398" fill-opacity="0.19"/><ellipse cx="527.1" cy="146.1" rx="2.1" ry="2.5" fill="#d8bfa6" fill-opacity="0.38"/><ellipse cx="514.8" cy="165.7" rx="1.9" ry="2.2" fill="#d8bfa6" fill-opacity="0.26"/><ellipse cx="511.6" cy="177.1" rx="1.6" ry="2.0" fill="#c3b398" fill-opacity="0.24"/><ellipse cx="469.7" cy="101.0" rx="2.9" ry="2.5" fill="#d8bfa6" fill-opacity="0.15"/><ellipse cx="547.2" cy="111.8" rx="1.9" ry="1.4" fill="#d8bfa6" fill-opacity="0.21"/><ellipse cx="465.9" cy="165.6" rx="1.7" ry="1.6" fill="#c9b196" fill-opacity="0.22"/><ellipse cx="466.7" cy="133.2" rx="1.8" ry="1.5" fill="#d2b79c" fill-opacity="0.32"/><ellipse cx="493.5" cy="139.0" rx="1.9" ry="2.1" fill="#c9b196" fill-opacity="0.52"/><ellipse cx="517.5" cy="155.9" rx="1.8" ry="2.2" fill="#c3b398" fill-opacity="0.53"/><ellipse cx="503.9" cy="115.9" rx="2.4" ry="1.9" fill="#d8bfa6" fill-opacity="0.41"/><ellipse cx="550.9" cy="137.4" rx="2.7" ry="2.0" fill="#c9b196" fill-opacity="0.26"/><ellipse cx="499.1" cy="109.2" rx="1.5" ry="1.1" fill="#bdb29a" fill-opacity="0.42"/><ellipse cx="461.4" cy="124.8" rx="2.2" ry="2.1" fill="#d2b79c" fill-opacity="0.27"/><ellipse cx="547.0" cy="164.0" rx="2.7" ry="2.6" fill="#c9b196" fill-opacity="0.09"/><ellipse cx="540.2" cy="124.7" rx="2.9" ry="2.2" fill="#c3b398" fill-opacity="0.24"/><ellipse cx="475.6" cy="143.1" rx="2.5" ry="2.0" fill="#c3b398" fill-opacity="0.21"/><ellipse cx="485.7" cy="98.7" rx="2.6" ry="1.8" fill="#d2b79c" fill-opacity="0.27"/><ellipse cx="496.8" cy="105.1" rx="1.7" ry="2.0" fill="#d8bfa6" fill-opacity="0.21"/><ellipse cx="532.0" cy="97.0" rx="2.5" ry="2.7" fill="#d8bfa6" fill-opacity="0.12"/><ellipse cx="504.9" cy="86.6" rx="2.9" ry="2.2" fill="#bdb29a" fill-opacity="0.16"/><ellipse cx="487.5" cy="154.1" rx="1.5" ry="1.5" fill="#c3b398" fill-opacity="0.53"/><ellipse cx="483.1" cy="175.8" rx="2.7" ry="2.9" fill="#d2b79c" fill-opacity="0.14"/><ellipse cx="490.5" cy="121.5" rx="1.6" ry="1.9" fill="#c9b196" fill-opacity="0.36"/><ellipse cx="539.2" cy="158.8" rx="1.7" ry="1.6" fill="#c9b196" fill-opacity="0.37"/><ellipse cx="480.0" cy="175.5" rx="2.7" ry="2.2" fill="#d8bfa6" fill-opacity="0.14"/><ellipse cx="497.0" cy="116.3" rx="2.1" ry="2.4" fill="#bdb29a" fill-opacity="0.44"/><ellipse cx="488.0" cy="174.6" rx="2.6" ry="2.8" fill="#c9b196" fill-opacity="0.29"/><ellipse cx="498.9" cy="147.9" rx="1.9" ry="1.7" fill="#bdb29a" fill-opacity="0.28"/><ellipse cx="514.1" cy="100.3" rx="2.7" ry="2.3" fill="#d8bfa6" fill-opacity="0.34"/><ellipse cx="493.4" cy="174.0" rx="1.7" ry="1.3" fill="#d8bfa6" fill-opacity="0.27"/><ellipse cx="549.1" cy="133.3" rx="2.2" ry="1.6" fill="#c9b196" fill-opacity="0.23"/><ellipse cx="512.1" cy="94.9" rx="1.5" ry="1.7" fill="#bdb29a" fill-opacity="0.25"/><ellipse cx="533.0" cy="123.6" rx="1.9" ry="1.9" fill="#bdb29a" fill-opacity="0.45"/><ellipse cx="508.2" cy="181.6" rx="2.3" ry="2.3" fill="#d8bfa6" fill-opacity="0.23"/><ellipse cx="528.7" cy="121.8" rx="3.0" ry="2.3" fill="#c3b398" fill-opacity="0.39"/><ellipse cx="493.6" cy="183.0" rx="2.8" ry="2.6" fill="#c9b196" fill-opacity="0.23"/><ellipse cx="486.0" cy="123.6" rx="2.7" ry="2.2" fill="#bdb29a" fill-opacity="0.23"/><ellipse cx="553.0" cy="117.8" rx="2.4" ry="2.9" fill="#c3b398" fill-opacity="0.17"/><ellipse cx="467.8" cy="104.1" rx="2.4" ry="2.3" fill="#d2b79c" fill-opacity="0.11"/><ellipse cx="491.3" cy="134.6" rx="1.5" ry="1.5" fill="#bdb29a" fill-opacity="0.30"/><ellipse cx="479.4" cy="125.3" rx="1.9" ry="2.2" fill="#d2b79c" fill-opacity="0.43"/><ellipse cx="471.0" cy="137.5" rx="1.5" ry="1.6" fill="#c3b398" fill-opacity="0.29"/><ellipse cx="507.2" cy="93.5" rx="2.6" ry="2.5" fill="#bdb29a" fill-opacity="0.31"/><ellipse cx="486.8" cy="90.9" rx="2.7" ry="3.4" fill="#d2b79c" fill-opacity="0.17"/><ellipse cx="467.1" cy="131.0" rx="2.0" ry="1.5" fill="#d2b79c" fill-opacity="0.23"/><ellipse cx="541.1" cy="110.8" rx="2.5" ry="3.0" fill="#d8bfa6" fill-opacity="0.18"/><ellipse cx="540.1" cy="102.8" rx="1.7" ry="2.1" fill="#bdb29a" fill-opacity="0.13"/><ellipse cx="454.3" cy="144.8" rx="1.5" ry="1.6" fill="#c9b196" fill-opacity="0.15"/><ellipse cx="541.7" cy="102.4" rx="3.0" ry="2.9" fill="#c3b398" fill-opacity="0.20"/><ellipse cx="513.3" cy="183.2" rx="2.6" ry="1.9" fill="#d8bfa6" fill-opacity="0.13"/><ellipse cx="531.1" cy="164.8" rx="2.8" ry="2.0" fill="#d8bfa6" fill-opacity="0.39"/><ellipse cx="496.7" cy="162.9" rx="1.9" ry="1.8" fill="#d2b79c" fill-opacity="0.34"/><ellipse cx="529.3" cy="166.9" rx="2.5" ry="1.8" fill="#c9b196" fill-opacity="0.17"/><ellipse cx="487.4" cy="183.2" rx="2.1" ry="1.8" fill="#bdb29a" fill-opacity="0.22"/><ellipse cx="487.9" cy="91.8" rx="1.4" ry="1.3" fill="#c3b398" fill-opacity="0.23"/><ellipse cx="522.2" cy="169.2" rx="2.8" ry="3.0" fill="#d8bfa6" fill-opacity="0.22"/><ellipse cx="523.0" cy="120.2" rx="1.4" ry="1.6" fill="#d2b79c" fill-opacity="0.31"/><ellipse cx="497.4" cy="187.5" rx="2.0" ry="2.6" fill="#c9b196" fill-opacity="0.13"/><ellipse cx="465.2" cy="160.5" rx="1.6" ry="1.8" fill="#c3b398" fill-opacity="0.13"/><ellipse cx="499.7" cy="109.1" rx="2.2" ry="2.0" fill="#c3b398" fill-opacity="0.45"/><ellipse cx="537.0" cy="108.6" rx="2.3" ry="2.8" fill="#c9b196" fill-opacity="0.34"/><ellipse cx="508.6" cy="160.7" rx="1.5" ry="1.1" fill="#d2b79c" fill-opacity="0.37"/><ellipse cx="549.6" cy="159.3" rx="2.8" ry="2.5" fill="#d2b79c" fill-opacity="0.17"/><ellipse cx="514.0" cy="111.0" rx="1.4" ry="1.2" fill="#c3b398" fill-opacity="0.52"/><ellipse cx="502.6" cy="113.2" rx="1.3" ry="1.0" fill="#c9b196" fill-opacity="0.55"/><ellipse cx="505.1" cy="100.9" rx="2.0" ry="1.4" fill="#bdb29a" fill-opacity="0.18"/><ellipse cx="543.9" cy="112.2" rx="1.8" ry="1.9" fill="#bdb29a" fill-opacity="0.25"/><ellipse cx="526.3" cy="105.9" rx="2.5" ry="2.5" fill="#d8bfa6" fill-opacity="0.35"/><ellipse cx="510.4" cy="96.7" rx="1.5" ry="1.4" fill="#bdb29a" fill-opacity="0.20"/><ellipse cx="515.5" cy="92.2" rx="2.6" ry="2.7" fill="#c9b196" fill-opacity="0.16"/><ellipse cx="466.6" cy="107.9" rx="1.7" ry="2.0" fill="#c9b196" fill-opacity="0.20"/><ellipse cx="532.9" cy="108.4" rx="1.6" ry="1.7" fill="#c9b196" fill-opacity="0.29"/><ellipse cx="458.1" cy="135.9" rx="2.5" ry="3.1" fill="#d2b79c" fill-opacity="0.12"/><ellipse cx="466.6" cy="126.3" rx="2.6" ry="1.9" fill="#c9b196" fill-opacity="0.29"/><ellipse cx="493.3" cy="104.2" rx="2.7" ry="3.1" fill="#d8bfa6" fill-opacity="0.39"/><ellipse cx="483.0" cy="106.7" rx="2.2" ry="1.7" fill="#bdb29a" fill-opacity="0.22"/><ellipse cx="526.2" cy="98.9" rx="2.6" ry="2.6" fill="#d2b79c" fill-opacity="0.19"/><ellipse cx="492.4" cy="95.0" rx="2.9" ry="3.4" fill="#c9b196" fill-opacity="0.22"/><ellipse cx="536.8" cy="177.7" rx="2.1" ry="2.0" fill="#d2b79c" fill-opacity="0.08"/><ellipse cx="537.2" cy="157.9" rx="2.2" ry="1.7" fill="#bdb29a" fill-opacity="0.26"/><ellipse cx="519.0" cy="136.7" rx="2.6" ry="2.2" fill="#d8bfa6" fill-opacity="0.32"/><ellipse cx="507.1" cy="176.2" rx="2.1" ry="1.9" fill="#c9b196" fill-opacity="0.24"/><ellipse cx="465.5" cy="103.9" rx="1.4" ry="1.8" fill="#bdb29a" fill-opacity="0.15"/><ellipse cx="464.0" cy="118.5" rx="2.9" ry="2.3" fill="#d8bfa6" fill-opacity="0.30"/><ellipse cx="549.5" cy="117.9" rx="1.7" ry="1.4" fill="#bdb29a" fill-opacity="0.22"/><ellipse cx="517.9" cy="166.1" rx="2.2" ry="2.1" fill="#c9b196" fill-opacity="0.33"/><ellipse cx="507.4" cy="96.5" rx="2.1" ry="2.3" fill="#bdb29a" fill-opacity="0.37"/><ellipse cx="518.6" cy="183.5" rx="2.0" ry="1.7" fill="#d2b79c" fill-opacity="0.11"/><ellipse cx="468.3" cy="102.1" rx="2.2" ry="2.3" fill="#c3b398" fill-opacity="0.15"/><ellipse cx="513.6" cy="178.5" rx="1.5" ry="1.9" fill="#d2b79c" fill-opacity="0.17"/><ellipse cx="508.2" cy="104.9" rx="2.5" ry="2.3" fill="#d2b79c" fill-opacity="0.19"/><ellipse cx="533.8" cy="153.6" rx="2.8" ry="3.4" fill="#c3b398" fill-opacity="0.25"/><ellipse cx="491.2" cy="177.7" rx="2.3" ry="1.8" fill="#bdb29a" fill-opacity="0.14"/><ellipse cx="544.9" cy="145.1" rx="1.8" ry="2.0" fill="#bdb29a" fill-opacity="0.25"/><ellipse cx="468.6" cy="125.7" rx="1.8" ry="1.4" fill="#bdb29a" fill-opacity="0.32"/><ellipse cx="500.2" cy="161.8" rx="2.5" ry="2.5" fill="#bdb29a" fill-opacity="0.25"/><ellipse cx="530.7" cy="156.3" rx="1.9" ry="1.4" fill="#d8bfa6" fill-opacity="0.25"/><ellipse cx="496.1" cy="127.4" rx="2.3" ry="1.7" fill="#c3b398" fill-opacity="0.49"/><ellipse cx="460.0" cy="119.8" rx="1.9" ry="2.3" fill="#d2b79c" fill-opacity="0.25"/><ellipse cx="487.0" cy="117.2" rx="1.5" ry="1.4" fill="#bdb29a" fill-opacity="0.24"/><ellipse cx="538.7" cy="121.3" rx="1.8" ry="2.2" fill="#c3b398" fill-opacity="0.22"/><ellipse cx="507.9" cy="112.0" rx="1.9" ry="2.2" fill="#c9b196" fill-opacity="0.38"/><ellipse cx="521.6" cy="90.2" rx="2.1" ry="2.2" fill="#c3b398" fill-opacity="0.19"/><ellipse cx="548.4" cy="143.3" rx="2.0" ry="2.5" fill="#c3b398" fill-opacity="0.31"/><ellipse cx="484.5" cy="156.9" rx="2.7" ry="2.5" fill="#c3b398" fill-opacity="0.35"/><ellipse cx="532.4" cy="141.1" rx="1.9" ry="1.6" fill="#c3b398" fill-opacity="0.38"/><ellipse cx="521.8" cy="176.5" rx="2.1" ry="2.6" fill="#d8bfa6" fill-opacity="0.20"/><ellipse cx="501.4" cy="123.8" rx="1.7" ry="1.8" fill="#d2b79c" fill-opacity="0.48"/><ellipse cx="475.4" cy="154.3" rx="1.8" ry="1.6" fill="#bdb29a" fill-opacity="0.42"/><ellipse cx="553.3" cy="148.8" rx="1.5" ry="1.5" fill="#d8bfa6" fill-opacity="0.13"/><ellipse cx="541.2" cy="141.8" rx="2.3" ry="2.6" fill="#c3b398" fill-opacity="0.22"/><circle cx="485.6" cy="99" r="2.5" fill="#c3b396" fill-opacity="0.6"/><circle cx="494.5" cy="103.5" r="2.5" fill="#c3b396" fill-opacity="0.6"/><circle cx="462.7" cy="117.5" r="3" fill="#d4baa0" fill-opacity="0.45"/><circle cx="471.6" cy="127.1" r="3" fill="#c3b396" fill-opacity="0.55"/><circle cx="474.8" cy="112.4" r="3" fill="#d4baa0" fill-opacity="0.5"/><circle cx="490.7" cy="116.3" r="1.5" fill="#a3b0a2" fill-opacity="0.6"/><circle cx="500.9" cy="110.5" r="2.5" fill="#d4baa0" fill-opacity="0.5"/><circle cx="480.5" cy="106.7" r="2.5" fill="#d4baa0" fill-opacity="0.4"/><circle cx="499.6" cy="92.7" r="2.5" fill="#d4baa0" fill-opacity="0.35"/><circle cx="485.6" cy="90.1" r="2.5" fill="#d4baa0" fill-opacity="0.3"/><circle cx="457.6" cy="127.1" r="2.5" fill="#d4baa0" fill-opacity="0.3"/><circle cx="512.7" cy="90.1" r="2.5" fill="#d4baa0" fill-opacity="0.35"/><circle cx="524.1" cy="99" r="2.5" fill="#d4baa0" fill-opacity="0.5"/><circle cx="525.4" cy="118.8" r="2" fill="#a3b0a2" fill-opacity="0.5"/><circle cx="531.8" cy="108" r="2.5" fill="#d4baa0" fill-opacity="0.5"/><circle cx="536.9" cy="100.3" r="2.5" fill="#d4baa0" fill-opacity="0.35"/><circle cx="547.1" cy="111.8" r="2.5" fill="#d4baa0" fill-opacity="0.3"/><circle cx="543.3" cy="122" r="2.5" fill="#d4baa0" fill-opacity="0.45"/><circle cx="516.5" cy="102.9" r="2.5" fill="#d4baa0" fill-opacity="0.45"/><circle cx="467.8" cy="154.1" r="3" fill="#c3b396" fill-opacity="0.6"/><circle cx="474.1" cy="138.8" r="2.5" fill="#c3b396" fill-opacity="0.55"/><circle cx="461.4" cy="147.8" r="2.5" fill="#d4baa0" fill-opacity="0.4"/><circle cx="475.4" cy="160.5" r="2.5" fill="#d4baa0" fill-opacity="0.35"/><circle cx="497.1" cy="155.4" r="2.5" fill="#c3b396" fill-opacity="0.45"/><circle cx="497.1" cy="170.7" r="2.5" fill="#d4baa0" fill-opacity="0.45"/><circle cx="488.2" cy="179.6" r="2.5" fill="#c3b396" fill-opacity="0.5"/><circle cx="502.2" cy="173.3" r="2.5" fill="#d4baa0" fill-opacity="0.4"/><circle cx="474.1" cy="172" r="2.5" fill="#d4baa0" fill-opacity="0.3"/><circle cx="461.4" cy="164.3" r="2.5" fill="#d4baa0" fill-opacity="0.3"/><circle cx="528.6" cy="151.6" r="3" fill="#c3b396" fill-opacity="0.55"/><circle cx="520.3" cy="166.3" r="2.5" fill="#c3b396" fill-opacity="0.45"/><circle cx="534.3" cy="142.7" r="2.5" fill="#c3b396" fill-opacity="0.5"/><circle cx="547.1" cy="164.3" r="2.5" fill="#d4baa0" fill-opacity="0.3"/><circle cx="543.3" cy="173.3" r="2.5" fill="#d4baa0" fill-opacity="0.3"/></g>
<g filter="url(#bl2)"><ellipse cx="515.2" cy="156.7" rx="2.8" ry="2.6" fill="#8dacae" fill-opacity="0.9"/><ellipse cx="537.5" cy="151.6" rx="2.3" ry="3.0" fill="#8dacae" fill-opacity="0.9"/><ellipse cx="531.1" cy="159.9" rx="2.5" ry="2.2" fill="#8dacae" fill-opacity="0.9"/><ellipse cx="529.2" cy="176.5" rx="2.3" ry="2.0" fill="#8dacae" fill-opacity="0.9"/><ellipse cx="519.6" cy="112.3" rx="2.4" ry="2.0" fill="#8dacae" fill-opacity="0.9"/><ellipse cx="533.4" cy="132.9" rx="2.6" ry="2.2" fill="#8dacae" fill-opacity="0.9"/><ellipse cx="521.6" cy="134.1" rx="2.0" ry="1.8" fill="#8dacae" fill-opacity="0.9"/><circle cx="497.6" cy="119.9" r="2.3" fill="#6fa2c2"/></g>
<g filter="url(#bl3)"><ellipse cx="507.1" cy="110.8" rx="5.90" ry="5.70" fill="url(#dotg)"/><ellipse cx="482.3" cy="117.6" rx="4.90" ry="4.60" fill="url(#dotg)"/><ellipse cx="531.5" cy="121.1" rx="5.40" ry="5.20" fill="url(#dotg)"/><ellipse cx="508.3" cy="126.1" rx="6.30" ry="6.20" fill="url(#dotg)"/><ellipse cx="489.9" cy="128.8" rx="5.50" ry="5.50" fill="url(#dotg)"/><ellipse cx="523.1" cy="138.6" rx="6.10" ry="5.80" fill="url(#dotg)"/><ellipse cx="484.3" cy="141.6" rx="5.30" ry="6.00" fill="url(#dotg)"/><ellipse cx="505.5" cy="146.5" rx="6.90" ry="6.90" fill="url(#dotg)"/><ellipse cx="488.1" cy="162.1" rx="5.80" ry="5.00" fill="url(#dotg)"/><ellipse cx="508.7" cy="167.9" rx="5.40" ry="5.20" fill="url(#dotg)"/></g>
</g>
<rect x="427" y="58.3" width="157.6" height="157.6" fill="none" stroke="#7d7474" stroke-width="1.25"/>
<path d="M440.2 215.89999999999998v-2.2M440.2 58.3v2.2M427 202.8h2.2M584.6 202.8h-2.2M427 170.0h2.2M584.6 170.0h-2.2M506.0 215.89999999999998v-2.2M506.0 58.3v2.2M427 137.2h2.2M584.6 137.2h-2.2M427 104.4h2.2M584.6 104.4h-2.2M571.8 215.89999999999998v-2.2M571.8 58.3v2.2M427 71.6h2.2M584.6 71.6h-2.2" stroke="#444" stroke-width="1" fill="none"/>
<text transform="translate(430.13 228.76) scale(1.055 1)" style="font-family:&quot;Liberation Serif&quot;,serif;font-size:14.22px;font-weight:bold" fill="#2e2e2e" >-10</text>
<text transform="translate(502.25 228.76) scale(1.055 1)" style="font-family:&quot;Liberation Serif&quot;,serif;font-size:14.22px;font-weight:bold" fill="#2e2e2e" >0</text>
<text transform="translate(563.90 228.76) scale(1.055 1)" style="font-family:&quot;Liberation Serif&quot;,serif;font-size:14.22px;font-weight:bold" fill="#2e2e2e" >10</text>
<text transform="translate(403.48 206.96) scale(1.055 1)" style="font-family:&quot;Liberation Serif&quot;,serif;font-size:14.22px;font-weight:bold" fill="#2e2e2e" >-10</text>
<text transform="translate(410.90 174.09) scale(1.055 1)" style="font-family:&quot;Liberation Serif&quot;,serif;font-size:14.22px;font-weight:bold" fill="#2e2e2e" >-5</text>
<text transform="translate(416.00 141.36) scale(1.055 1)" style="font-family:&quot;Liberation Serif&quot;,serif;font-size:14.22px;font-weight:bold" fill="#2e2e2e" >0</text>
<text transform="translate(415.93 108.49) scale(1.055 1)" style="font-family:&quot;Liberation Serif&quot;,serif;font-size:14.22px;font-weight:bold" fill="#2e2e2e" >5</text>
<text transform="translate(408.50 75.76) scale(1.055 1)" style="font-family:&quot;Liberation Serif&quot;,serif;font-size:14.22px;font-weight:bold" fill="#2e2e2e" >10</text>
<text transform="translate(464.96 54.41) scale(1.096 1)" style="font-family:&quot;Liberation Serif&quot;,serif;font-size:18.96px;font-style:italic" fill="#111" >t</text>
<text transform="translate(475.41 55.90) scale(1.475 1)" style="font-family:&quot;Liberation Serif&quot;,serif;font-size:17.50px;" fill="#111">=</text>
<text transform="translate(493.68 54.62) scale(0.972 1)" style="font-family:&quot;Liberation Serif&quot;,serif;font-size:17.78px;" fill="#111" >700</text>
<text transform="translate(525.44 54.72) scale(1.000 1)" style="font-family:&quot;Liberation Serif&quot;,serif;font-size:18.12px;" fill="#111" >ms</text>
<text transform="translate(483.56 240.90) scale(1.399 1)" style="font-family:&quot;Liberation Serif&quot;,serif;font-size:12.39px;font-style:italic" fill="#111" >x</text>
<text transform="translate(496.88 240.90) scale(1.124 1)" style="font-family:&quot;Liberation Serif&quot;,serif;font-size:14.30px;" fill="#111">(</text>
<text transform="translate(502.34 241.48) scale(0.753 1)" style="font-family:&quot;Liberation Serif&quot;,serif;font-size:14.52px;font-style:italic" fill="#111" >µ</text>
<text transform="translate(507.85 240.90) scale(1.450 1)" style="font-family:&quot;Liberation Serif&quot;,serif;font-size:12.13px;" fill="#111" >m</text>
<text transform="translate(523.67 240.90) scale(0.995 1)" style="font-family:&quot;Liberation Serif&quot;,serif;font-size:14.30px;" fill="#111">)</text>
<text transform="translate(402.47 157.21) rotate(-90) scale(1.331 1)" style="font-family:&quot;Liberation Serif&quot;,serif;font-size:13.19px;font-style:italic" fill="#111">y</text>
<text transform="translate(403.20 144.35) rotate(-90) scale(1.298 1)" style="font-family:&quot;Liberation Serif&quot;,serif;font-size:14.50px;" fill="#111">(</text>
<text transform="translate(402.87 138.24) rotate(-90) scale(1.157 1)" style="font-family:&quot;Liberation Serif&quot;,serif;font-size:14.07px;font-style:italic" fill="#111">µ</text>
<text transform="translate(403.30 129.65) rotate(-90) scale(0.876 1)" style="font-family:&quot;Liberation Serif&quot;,serif;font-size:14.26px;" fill="#111">m</text>
<text transform="translate(403.20 120.03) rotate(-90) scale(0.981 1)" style="font-family:&quot;Liberation Serif&quot;,serif;font-size:14.50px;" fill="#111">)</text>
<rect x="588.95" y="57.9" width="9.0" height="158.0" fill="url(#cb)" stroke="#3a3a3a" stroke-width="1.5"/>
<text transform="translate(600.52 220.30) scale(1.030 1)" style="font-family:&quot;Liberation Serif&quot;,serif;font-size:11.62px;" fill="#1a1a1a" stroke="#1a1a1a" stroke-width="0.2" stroke-linejoin="round">0</text>
<text transform="translate(600.52 180.68) scale(1.030 1)" style="font-family:&quot;Liberation Serif&quot;,serif;font-size:11.62px;" fill="#1a1a1a" stroke="#1a1a1a" stroke-width="0.2" stroke-linejoin="round">0.005</text>
<text transform="translate(600.52 141.08) scale(1.030 1)" style="font-family:&quot;Liberation Serif&quot;,serif;font-size:11.62px;" fill="#1a1a1a" stroke="#1a1a1a" stroke-width="0.2" stroke-linejoin="round">0.01</text>
<text transform="translate(600.52 101.48) scale(1.030 1)" style="font-family:&quot;Liberation Serif&quot;,serif;font-size:11.62px;" fill="#1a1a1a" stroke="#1a1a1a" stroke-width="0.2" stroke-linejoin="round">0.015</text>
<text transform="translate(600.52 61.88) scale(1.030 1)" style="font-family:&quot;Liberation Serif&quot;,serif;font-size:11.62px;" fill="#1a1a1a" stroke="#1a1a1a" stroke-width="0.2" stroke-linejoin="round">0.02</text>
<path d="M598.6 216.0h-2.5M598.6 176.4h-2.5M598.6 136.8h-2.5M598.6 97.2h-2.5M598.6 57.6h-2.5" stroke="#333" stroke-width="1"/>
<text transform="translate(635.1 65.4) rotate(90) scale(1.215 1)" style="font-family:&quot;Liberation Serif&quot;,serif;font-size:14.7px" fill="#111">∫ <tspan style="font-style:italic">dz</tspan> |Ψ(<tspan style="font-weight:bold">r</tspan>, <tspan style="font-style:italic">t</tspan>)|<tspan dy="-6" style="font-size:10.3px">2</tspan><tspan dy="6"> (</tspan><tspan style="font-style:italic">µ</tspan>m<tspan dy="-6" style="font-size:10.3px">−2</tspan><tspan dy="6">)</tspan></text>
</svg>
</body></html>
